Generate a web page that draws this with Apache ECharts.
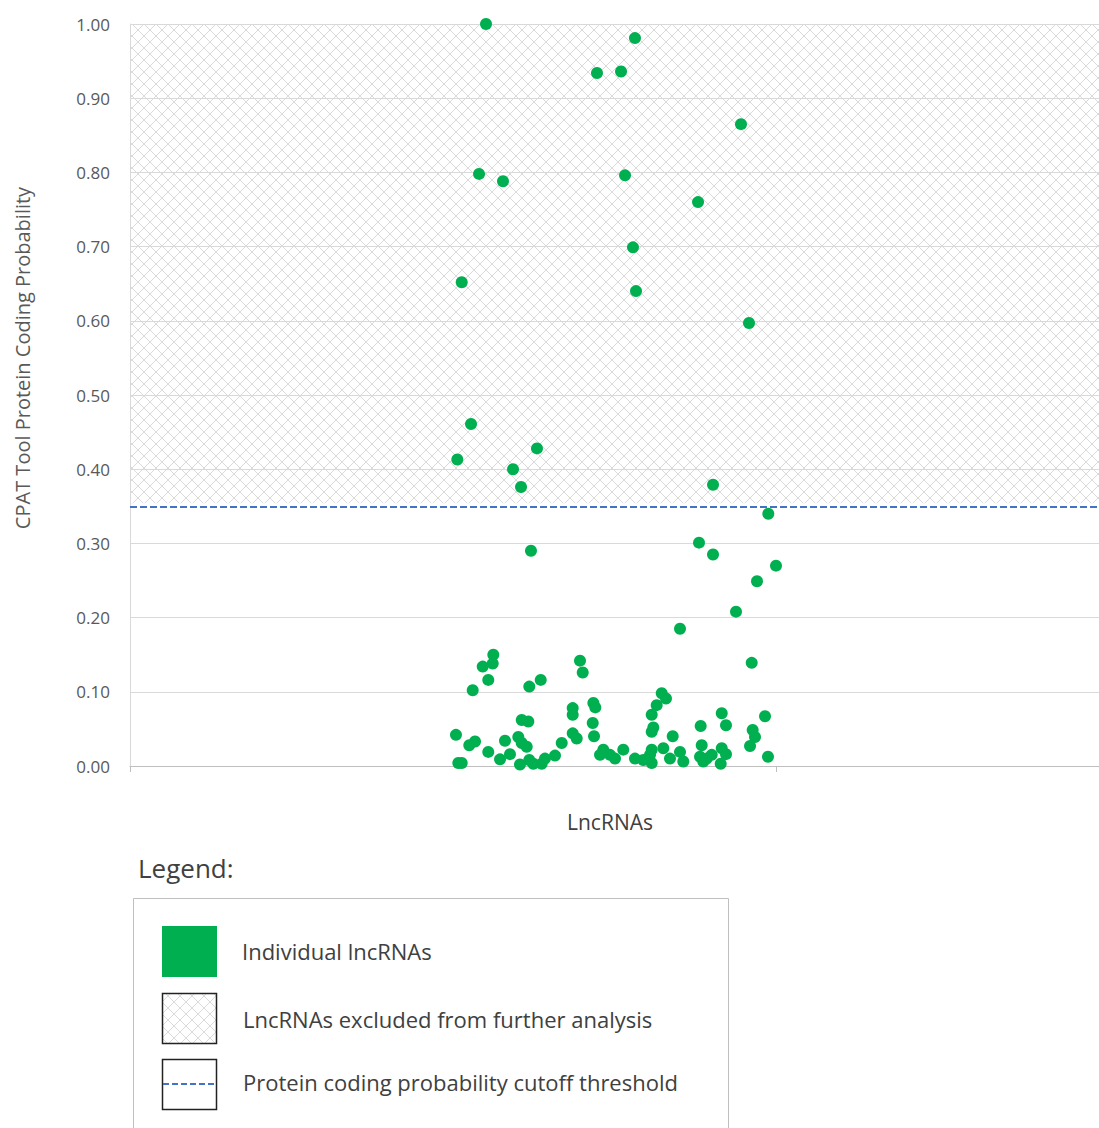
<!DOCTYPE html>
<html><head><meta charset="utf-8">
<script src="https://cdn.jsdelivr.net/npm/echarts@6/dist/echarts.min.js"></script>
<style>html,body{margin:0;padding:0;background:#fff}#c{width:1099px;height:1128px}</style>
</head><body><div id="c"></div>
<script>
// x position (jitter index) of each lncRNA
const lncrnaIndex = [
  55.11, 78.17, 72.29, 76.01, 94.58, 54.03, 57.74, 76.63, 87.93, 77.86,
  51.35, 78.33, 95.82, 52.79, 63.00, 50.67, 59.29, 60.53, 90.25, 98.81,
  88.08, 62.07, 90.25, 100.0, 97.06, 93.81, 85.14,
  56.24, 54.60, 56.15, 55.46, 53.05, 61.81, 63.58, 69.66, 70.08, 71.73,
  72.03, 71.63, 71.83, 68.53, 68.53, 68.53, 69.15, 60.64, 61.66, 50.46,
  52.52, 53.41, 55.46, 58.05, 57.28, 58.82, 60.11, 60.64, 61.41, 50.82,
  51.35, 60.37, 61.81, 62.43, 63.73, 64.24, 65.79, 66.83, 73.27, 72.76,
  74.30, 75.08,
  96.24, 82.31, 82.97, 81.53, 80.76, 81.01, 80.76, 84.01, 82.56, 80.76,
  80.50, 79.46, 80.76, 78.17, 76.36, 83.59, 85.14, 85.65, 88.34, 88.50,
  88.24, 89.27, 90.05, 88.75, 91.60, 92.26, 91.60, 92.26, 91.44, 96.39,
  96.75, 95.98, 98.30, 98.76
];
// CPAT protein coding probability of each lncRNA
const codingProb = [
  1.000, 0.981, 0.934, 0.936, 0.865, 0.798, 0.788, 0.796, 0.760, 0.699,
  0.652, 0.640, 0.597, 0.461, 0.428, 0.413, 0.400, 0.376, 0.379, 0.340,
  0.301, 0.290, 0.285, 0.270, 0.249, 0.208, 0.185,
  0.150, 0.134, 0.138, 0.116, 0.102, 0.107, 0.116, 0.142, 0.126, 0.085,
  0.079, 0.058, 0.040, 0.078, 0.069, 0.044, 0.037, 0.062, 0.060, 0.042,
  0.028, 0.033, 0.019, 0.034, 0.009, 0.016, 0.039, 0.031, 0.026, 0.004,
  0.004, 0.002, 0.008, 0.003, 0.003, 0.010, 0.014, 0.031, 0.022, 0.015,
  0.015, 0.010,
  0.139, 0.098, 0.091, 0.082, 0.069, 0.052, 0.046, 0.040, 0.024, 0.022,
  0.015, 0.008, 0.004, 0.010, 0.022, 0.010, 0.019, 0.006, 0.054, 0.028,
  0.0125, 0.010, 0.015, 0.006, 0.071, 0.055, 0.024, 0.016, 0.003, 0.0485,
  0.039, 0.027, 0.067, 0.0125
];
const cutoffThreshold = 0.354;
const yMin = 0, yMax = 1, yStep = 0.1;
const xMin = 0, xMax = 150, xTickValues = [0, 100];
const axisTitleX = 'LncRNAs';
const axisTitleY = 'CPAT Tool Protein Coding Probability';
const legendTitle = 'Legend:';
const legendLabels = ['Individual lncRNAs', 'LncRNAs excluded from further analysis', 'Protein coding probability cutoff threshold'];

const GREEN = '#00B050';
const FONT = '"Open Sans", "Noto Sans", sans-serif';

// crosshatch pattern
const pc = document.createElement('canvas');
pc.width = 12; pc.height = 12;
const g = pc.getContext('2d');
g.strokeStyle = '#dadada';
g.lineWidth = 1;
g.beginPath();
g.moveTo(0, 0); g.lineTo(12, 12);
g.moveTo(12, 0); g.lineTo(0, 12);
g.stroke();
const hatchURL = pc.toDataURL();
const hatch = { image: hatchURL, repeat: 'repeat' };

const points = lncrnaIndex.map((x, i) => [x, codingProb[i]]);

const chart = echarts.init(document.getElementById('c'), null, { renderer: 'svg' });
chart.setOption({
  animation: false,
  backgroundColor: '#fff',
  grid: { left: 130, right: 0, top: 24, bottom: 362 },
  xAxis: {
    type: 'value', min: xMin, max: xMax, interval: 100,
    name: axisTitleX, nameLocation: 'middle', nameGap: 45,
    nameTextStyle: { fontFamily: FONT, fontSize: 21, color: '#404040', padding: [0, 9, 0, 0] },
    axisLine: { show: true, onZero: false, lineStyle: { color: '#bfbfbf', width: 1 } },
    axisTick: { show: true, length: 6, customValues: xTickValues, lineStyle: { color: '#bfbfbf' } },
    axisLabel: { show: false },
    splitLine: { show: false }
  },
  yAxis: {
    type: 'value', min: yMin, max: yMax, interval: yStep,
    axisLine: { show: true, lineStyle: { color: '#d9d9d9', width: 1 } },
    axisTick: { show: false },
    axisLabel: {
      margin: 20, fontFamily: FONT, fontSize: 17, color: '#595959',
      formatter: v => v.toFixed(2)
    },
    splitLine: { show: true, lineStyle: { color: '#d9d9d9', width: 1 } }
  },
  series: [{
    type: 'scatter',
    data: points,
    symbol: 'circle',
    symbolSize: 12,
    itemStyle: { color: GREEN, opacity: 1 },
    z: 5,
    markArea: {
      silent: true,
      itemStyle: { color: hatch, opacity: 1 },
      data: [[{ xAxis: xMin, yAxis: cutoffThreshold }, { xAxis: xMax, yAxis: yMax }]]
    },
    markLine: {
      silent: true,
      symbol: 'none',
      label: { show: false },
      lineStyle: { color: '#4472C4', width: 2, type: [7, 3] },
      data: [{ yAxis: cutoffThreshold }]
    }
  }],
  graphic: [
    {
      type: 'text', x: 22, y: 358, rotation: Math.PI / 2,
      style: { text: axisTitleY, fontFamily: FONT, fontSize: 20, fill: '#595959', align: 'center', verticalAlign: 'middle' }
    },
    {
      type: 'text', x: 138, y: 868,
      style: { text: legendTitle, fontFamily: FONT, fontSize: 26, fill: '#404040', align: 'left', verticalAlign: 'middle' }
    },
    {
      type: 'rect', shape: { x: 133.5, y: 898.5, width: 595, height: 260 },
      style: { fill: '#fff', stroke: '#bfbfbf', lineWidth: 1 }
    },
    {
      type: 'rect', shape: { x: 162, y: 926, width: 55, height: 51 },
      style: { fill: GREEN }
    },
    {
      type: 'rect', shape: { x: 162.5, y: 993.5, width: 54, height: 50 },
      style: { fill: hatch, stroke: '#222', lineWidth: 1.5 }
    },
    {
      type: 'rect', shape: { x: 162.5, y: 1059.5, width: 54, height: 50 },
      style: { fill: '#fff', stroke: '#222', lineWidth: 1.5 }
    },
    {
      type: 'line', shape: { x1: 163, y1: 1084, x2: 216, y2: 1084 },
      style: { stroke: '#4472C4', lineWidth: 2, lineDash: [6, 3] }
    },
    {
      type: 'text', x: 242, y: 951,
      style: { text: legendLabels[0], fontFamily: FONT, fontSize: 22, fill: '#404040', align: 'left', verticalAlign: 'middle' }
    },
    {
      type: 'text', x: 243, y: 1019,
      style: { text: legendLabels[1], fontFamily: FONT, fontSize: 22, fill: '#404040', align: 'left', verticalAlign: 'middle' }
    },
    {
      type: 'text', x: 243, y: 1082,
      style: { text: legendLabels[2], fontFamily: FONT, fontSize: 22, fill: '#404040', align: 'left', verticalAlign: 'middle' }
    }
  ]
});
</script>
</body></html>
